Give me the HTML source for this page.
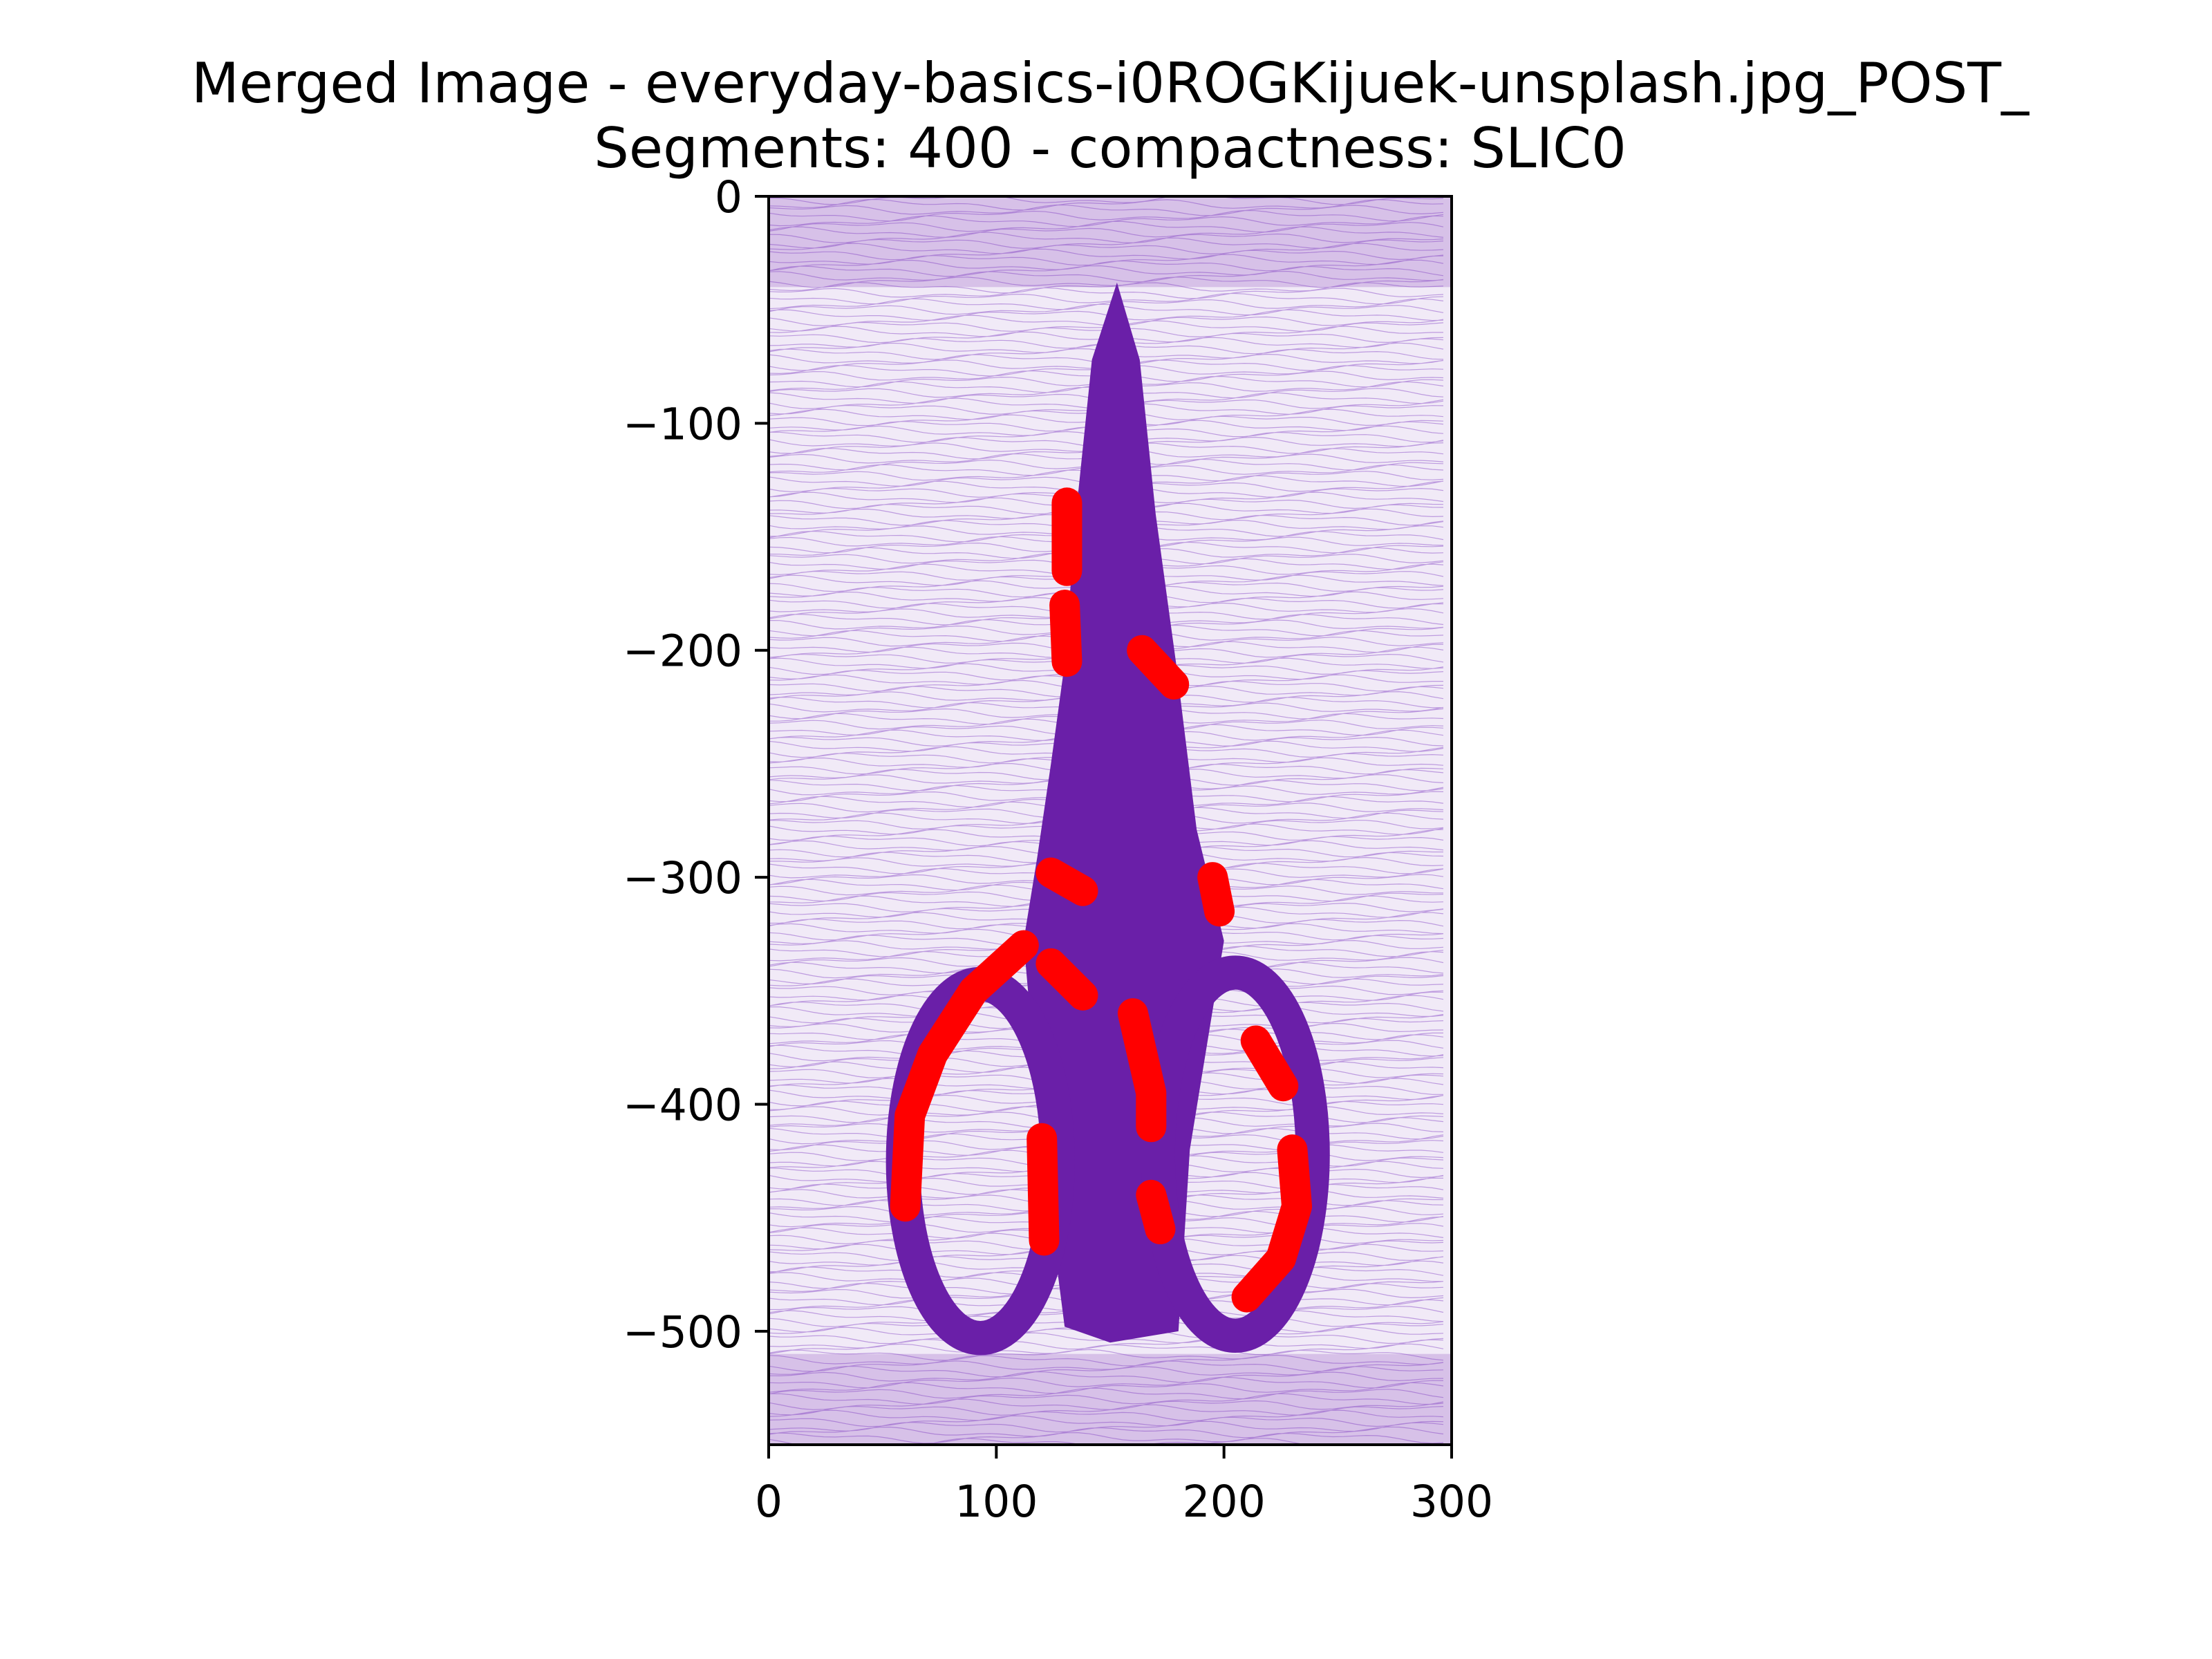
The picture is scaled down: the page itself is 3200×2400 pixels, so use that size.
<!DOCTYPE html>
<html><head><meta charset="utf-8">
<style>
html,body{margin:0;padding:0;background:#fff;}
svg{display:block;font-family:"DejaVu Sans","Liberation Sans",sans-serif;}
</style></head>
<body>
<svg id="chart" width="3200" height="2400" viewBox="0 0 3200 2400" xmlns="http://www.w3.org/2000/svg">
<rect width="3200" height="2400" fill="#fff"/>
<text x="1606" y="148" font-size="80" text-anchor="middle">Merged Image - everyday-basics-i0ROGKijuek-unsplash.jpg_POST_</text>
<text x="1606" y="242" font-size="80" text-anchor="middle">Segments: 400 - compactness: SLIC0</text>
<defs><clipPath id="pc"><rect x="1112" y="284" width="988" height="1806"/></clipPath></defs>
<g id="plot" clip-path="url(#pc)">
<rect x="1112" y="284" width="988" height="1806" fill="#f1eaf7"/>
<g id="bg"></g><g id="shape"></g>
</g>
<rect x="1112" y="284" width="988" height="1806" fill="none" stroke="#000" stroke-width="4"/>
<g id="axes"></g>
</svg>
<script>
const xTicks=[0,100,200,300];
const yTicks=[0,-100,-200,-300,-400,-500];
const xLabels=["0","100","200","300"];
const yLabels=["0","\u2212100","\u2212200","\u2212300","\u2212400","\u2212500"];
const bladeLeft=[[153,-38],[142,-72],[135,-140],[130,-206],[124,-250],[118,-291],[112,-328]];
const bladeRight=[[200,-328],[188,-279],[179,-206],[170,-140],[163,-72],[153,-38]];
const leftRing=[93,-425,34,78,15];
const rightRing=[205,-422,34,80,15];
const bodyPoly=[[112,-328],[200,-328],[185,-420],[180,-500],[150,-505],[130,-498],[120,-420]];
const redStrokes=[
 [[131,-135],[131,-165]],
 [[130,-180],[131,-205]],
 [[164,-200],[178,-215]],
 [[124,-298],[138,-306]],
 [[124,-338],[138,-352]],
 [[112,-330],[90,-350],[72,-378],[62,-405],[60,-445]],
 [[214,-372],[226,-392]],
 [[230,-420],[232,-445],[225,-468],[210,-485]],
 [[160,-360],[168,-395],[168,-410]],
 [[168,-440],[172,-455]],
 [[120,-415],[121,-460]],
 [[195,-300],[198,-315]]
];
const X=v=>1112+v*988/300, Y=v=>284-v*1806/550;
const NS="http://www.w3.org/2000/svg";
function mk(t,a,p){const e=document.createElementNS(NS,t);for(const k in a)e.setAttribute(k,a[k]);p.appendChild(e);return e;}
const ax=document.getElementById('axes');
xTicks.forEach((v,i)=>{
 const l=mk('line',{x1:X(v),x2:X(v),y1:2090,y2:2110,stroke:'#000','stroke-width':4},ax);
 
 const t=mk('text',{x:X(v),y:2194,'font-size':63,'text-anchor':'middle'},ax);t.textContent=xLabels[i];
 
});
yTicks.forEach((v,i)=>{
 const l=mk('line',{x1:1092,x2:1112,y1:Y(v),y2:Y(v),stroke:'#000','stroke-width':4},ax);
 
 const t=mk('text',{x:1074,y:Y(v)+23,'font-size':63,'text-anchor':'end'},ax);t.textContent=yLabels[i];
 
});
const bg=document.getElementById('bg');
let d='';
for(let r=0;r<230;r++){
 const y0=288+r*8;
 d+='M1112 '+y0;
 for(let x=1112;x<=2100;x+=16){
  const yy=y0+5*Math.sin(x*0.017+r*1.7)+3*Math.sin(x*0.043+r*0.9);
  d+=' L'+x+' '+yy.toFixed(1);
 }
}
const bgp=mk('path',{d:d,fill:'none',stroke:'#8a4cc8','stroke-width':1.2,opacity:0.5},bg);

const band=(y1,y2)=>{const r=mk('rect',{x:1112,y:Y(y1),width:988,height:Y(y2)-Y(y1),fill:'#7a33b8',opacity:0.22},bg);};
band(0,-40);band(-510,-550);
const sh=document.getElementById('shape');
const pts=a=>a.map(p=>X(p[0])+','+Y(p[1])).join(' ');
const blade=mk('polygon',{points:pts(bladeLeft.concat(bladeRight)),fill:'#6a1fa8'},sh);

const body=mk('polygon',{points:pts(bodyPoly),fill:'#6a1fa8'},sh);

[leftRing,rightRing].forEach((r,i)=>{
 const e=mk('ellipse',{cx:X(r[0]),cy:Y(r[1]),rx:r[2]*988/300,ry:r[3]*1806/550,fill:'none',stroke:'#6a1fa8','stroke-width':r[4]*3.29},sh);
 
});
redStrokes.forEach(s=>{
 const p=mk('polyline',{points:pts(s),fill:'none',stroke:'#ff0000','stroke-width':44,'stroke-linecap':'round','stroke-linejoin':'round'},sh);
 
});
</script>
</body></html>
